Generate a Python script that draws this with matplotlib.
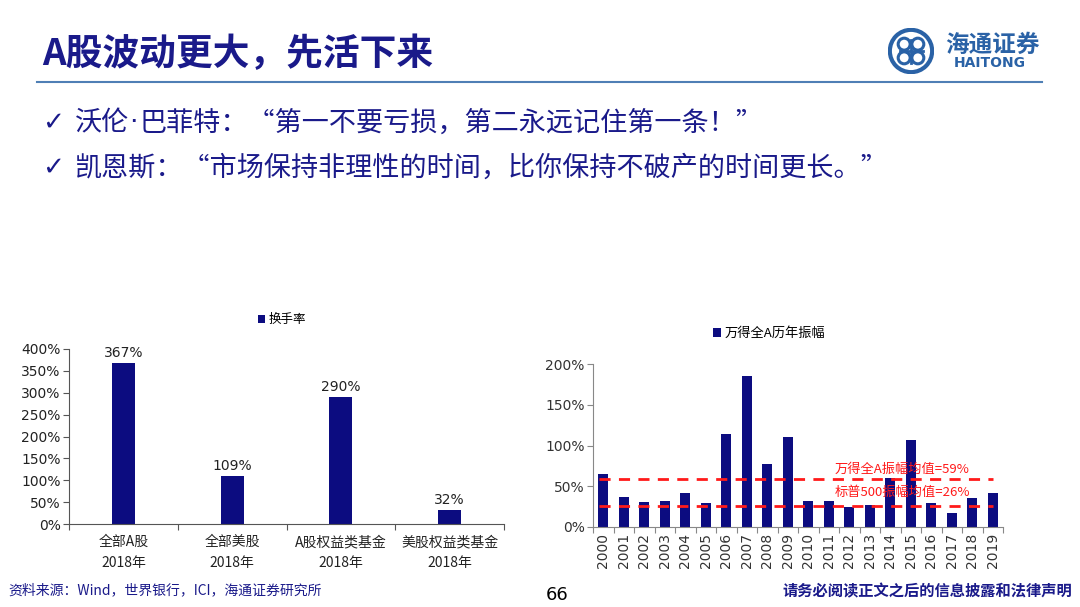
import matplotlib
matplotlib.use('Agg')
import matplotlib.pyplot as plt
from matplotlib.patches import Circle
import numpy as np

plt.rcParams['font.family'] = ['Noto Sans CJK SC', 'DejaVu Sans']

# 左图：换手率
turnover_cats = ['全部A股\n2018年', '全部美股\n2018年', 'A股权益类基金\n2018年', '美股权益类基金\n2018年']
turnover_vals = [367, 109, 290, 32]

# 右图：万得全A历年振幅
years = [str(y) for y in range(2000, 2020)]
amplitude = [65, 37, 31, 32, 42, 30, 114, 185, 77, 110,
             32, 32, 25, 27, 60, 107, 30, 17, 36, 42]
mean_wind = 59
mean_sp500 = 26

NAVY = '#0c0c80'
DARK = '#1a1a8a'
W, H = 1080, 607


def px_axes(fig, x0, y0, x1, y1):
    # 像素坐标（左上为原点）转换为 figure 坐标
    return fig.add_axes([x0 / W, 1 - y1 / H, (x1 - x0) / W, (y1 - y0) / H])


fig = plt.figure(figsize=(10.8, 6.07), dpi=100)
fig.patch.set_facecolor('white')

# 标题与分隔线
fig.text(42 / W, 1 - 55 / H, 'A股波动更大，先活下来', fontsize=26.5, fontweight='bold',
         color=DARK, va='center', ha='left')
fig.add_artist(plt.Line2D([37 / W, 1042 / W], [1 - 82 / H, 1 - 82 / H], color='#4f7fb5', lw=1.5))

# 标志
lax = px_axes(fig, 888, 28, 934, 74)
lax.set_xlim(-1, 1)
lax.set_ylim(-1, 1)
lax.set_aspect('equal')
lax.axis('off')
lax.add_patch(Circle((0, 0), 0.92, fill=False, ec='#2a62a6', lw=3))
for ang in [45, 135, 225, 315]:
    a = np.deg2rad(ang)
    lax.add_patch(Circle((0.42 * np.cos(a), 0.42 * np.sin(a)), 0.26, fill=False, ec='#2a62a6', lw=2.2))
lax.plot([-0.5, 0.5], [0, 0], color='#2a62a6', lw=2)
lax.plot([0, 0], [-0.5, 0.5], color='#2a62a6', lw=2)
fig.text(992 / W, 1 - 45 / H, '海通证券', fontsize=17, color='#2a62a6', style='italic',
         ha='center', va='center', fontweight='bold')
fig.text(990 / W, 1 - 63 / H, 'HAITONG', fontsize=10, color='#2a62a6', ha='center',
         va='center', fontweight='bold', family='DejaVu Sans')

# 要点
bullets = [['沃伦', '·', '巴菲特：“第一不要亏损，第二永远记住第一条！”'],
           ['凯恩斯：“市场保持非理性的时间，比你保持不破产的时间更长。”']]
for i, parts in enumerate(bullets):
    yy = 1 - (123 + 45 * i) / H
    fig.text(42 / W, yy, '✓', fontsize=19, color=DARK, va='center', family='DejaVu Sans',
             fontweight='bold')
    x = 75
    for p in parts:
        fam = ['DejaVu Sans'] if p == '·' else ['Noto Sans CJK SC', 'DejaVu Sans']
        t = fig.text(x / W, yy, p, fontsize=19.5, color=DARK, va='center', family=fam)
        fig.canvas.draw()
        x += t.get_window_extent().width + (2 if p == '·' else 0)

# 左图
ax1 = px_axes(fig, 69, 349, 504, 524)
x1 = np.arange(len(turnover_vals))
ax1.bar(x1, turnover_vals, width=0.21, color=NAVY, label='换手率')
for xi, v in zip(x1, turnover_vals):
    ax1.text(xi, v + 8, f'{v}%', ha='center', va='bottom', fontsize=10, color='#222222',
             family='DejaVu Sans')
ax1.set_ylim(0, 400)
ax1.set_xlim(-0.5, len(turnover_vals) - 0.5)
ax1.set_yticks(range(0, 401, 50))
ax1.set_yticklabels([f'{t}%' for t in range(0, 401, 50)], fontsize=10, color='#222222',
                    family='DejaVu Sans')
ax1.set_xticks(np.arange(-0.5, len(turnover_vals)), minor=False)
ax1.set_xticklabels([])
ax1.set_xticks(x1, minor=True)
ax1.set_xticklabels(turnover_cats, minor=True, fontsize=10, color='#222222', linespacing=1.6)
ax1.tick_params(axis='x', which='minor', length=0, pad=8)
ax1.tick_params(axis='x', which='major', length=4, color='#555555')
ax1.tick_params(axis='y', length=4, color='#555555', pad=2)
for s in ['top', 'right']:
    ax1.spines[s].set_visible(False)
for s in ['left', 'bottom']:
    ax1.spines[s].set_color('#555555')
ax1.legend(loc='upper center', bbox_to_anchor=(0.49, 1.27), frameon=False, fontsize=9,
           handlelength=0.6, handleheight=0.6, handletextpad=0.3)

# 右图
ax2 = px_axes(fig, 593, 364, 1003, 527)
x2 = np.arange(len(amplitude))
ax2.bar(x2, amplitude, width=0.51, color=NAVY, label='万得全A历年振幅')
ax2.plot([-0.2, 19.0], [mean_wind, mean_wind], color='#ff1a1a', lw=2, ls=(0, (4, 3)))
ax2.plot([-0.2, 19.0], [mean_sp500, mean_sp500], color='#ff1a1a', lw=2, ls=(0, (4, 3)))
ax2.text(11.3, mean_wind + 4, f'万得全A振幅均值={mean_wind}%', color='#ff1a1a', fontsize=9.5,
         va='bottom', ha='left')
ax2.text(11.3, mean_sp500 + 16, f'标普500振幅均值={mean_sp500}%', color='#ff1a1a', fontsize=9.5,
         va='center', ha='left')
ax2.set_ylim(0, 200)
ax2.set_xlim(-0.5, len(amplitude) - 0.5)
ax2.set_yticks(range(0, 201, 50))
ax2.set_yticklabels([f'{t}%' for t in range(0, 201, 50)], fontsize=10, color='#333333',
                    family='DejaVu Sans')
ax2.set_xticks(np.arange(-0.5, len(amplitude)), minor=False)
ax2.set_xticklabels([])
ax2.set_xticks(x2, minor=True)
ax2.set_xticklabels(years, minor=True, rotation=90, fontsize=10, color='#333333',
                    family='DejaVu Sans')
ax2.tick_params(axis='x', which='minor', length=0, pad=4)
ax2.tick_params(axis='x', which='major', length=4, color='#888888')
ax2.tick_params(axis='y', length=4, color='#888888', pad=2)
for s in ['top', 'right']:
    ax2.spines[s].set_visible(False)
for s in ['left', 'bottom']:
    ax2.spines[s].set_color('#888888')
ax2.legend(loc='upper center', bbox_to_anchor=(0.43, 1.30), frameon=False, fontsize=9.5,
           handlelength=0.6, handleheight=0.6, handletextpad=0.3)

# 页脚
fig.text(8 / W, 1 - 590 / H, '资料来源：Wind，世界银行，ICI，海通证券研究所', fontsize=10,
         color=DARK, va='center', ha='left')
fig.text(557 / W, 1 - 595 / H, '66', fontsize=13, color='black', va='center', ha='center',
         family='DejaVu Sans')
fig.text(1072 / W, 1 - 591 / H, '请务必阅读正文之后的信息披露和法律声明', fontsize=11,
         color=DARK, va='center', ha='right', fontweight='bold')

fig.savefig('out.png', dpi=100)
